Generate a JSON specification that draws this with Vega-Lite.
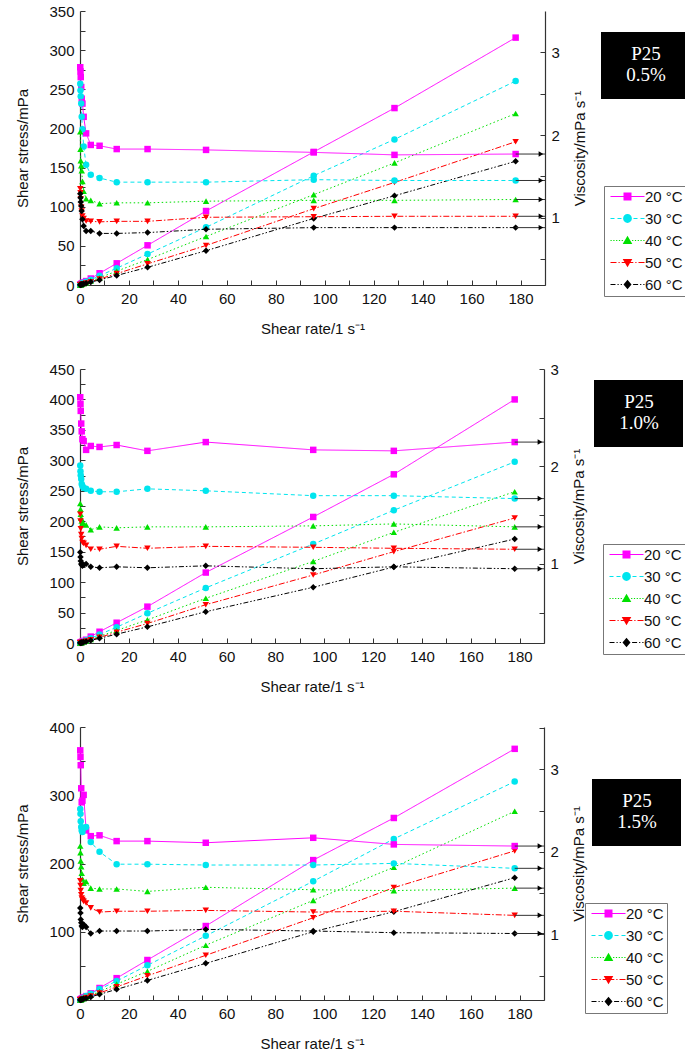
{
"$schema": "https://vega.github.io/schema/vega-lite/v6.json",
"background": "white",
"padding": {"left": 15, "top": 4, "right": 0, "bottom": 0},
"spacing": 26,
"config": {
  "font": "Liberation Sans",
  "view": {"stroke": null},
  "axis": {"labelFontSize": 15, "titleFontSize": 15, "titleFontWeight": "normal", "labelColor": "#111", "titleColor": "#111", "domainColor": "#333", "tickColor": "#333", "grid": false, "tickSize": -5, "labelPadding": 11, "domainWidth": 1.2, "labelFlush": false, "labelOverlap": false}
},
"datasets": {
"p1": [
{"T":"20 °C","r":0.1,"s":0.3,"v":2.82},{"T":"20 °C","r":0.2,"s":0.55,"v":2.77},{"T":"20 °C","r":0.3,"s":0.8,"v":2.70},{"T":"20 °C","r":0.5,"s":1.3,"v":2.58},{"T":"20 °C","r":0.7,"s":1.7,"v":2.44},{"T":"20 °C","r":1,"s":2.4,"v":2.38},{"T":"20 °C","r":1.5,"s":3.3,"v":2.22},{"T":"20 °C","r":2.5,"s":5.0,"v":2.02},{"T":"20 °C","r":4.4,"s":8.3,"v":1.88},{"T":"20 °C","r":8,"s":15,"v":1.87},{"T":"20 °C","r":15,"s":27.7,"v":1.83},{"T":"20 °C","r":27.6,"s":50.7,"v":1.83},{"T":"20 °C","r":51.5,"s":94.5,"v":1.82},{"T":"20 °C","r":95.5,"s":170,"v":1.79},{"T":"20 °C","r":128.5,"s":226,"v":1.76},{"T":"20 °C","r":178,"s":316,"v":1.77},
{"T":"30 °C","r":0.1,"s":0.26,"v":2.62},{"T":"30 °C","r":0.2,"s":0.5,"v":2.54},{"T":"30 °C","r":0.3,"s":0.74,"v":2.47},{"T":"30 °C","r":0.5,"s":1.2,"v":2.38},{"T":"30 °C","r":0.7,"s":1.55,"v":2.22},{"T":"30 °C","r":1,"s":2.1,"v":2.07},{"T":"30 °C","r":1.5,"s":2.8,"v":1.86},{"T":"30 °C","r":2.5,"s":4.1,"v":1.64},{"T":"30 °C","r":4.4,"s":6.7,"v":1.52},{"T":"30 °C","r":8,"s":11.8,"v":1.48},{"T":"30 °C","r":15,"s":21.5,"v":1.43},{"T":"30 °C","r":27.6,"s":39.5,"v":1.43},{"T":"30 °C","r":51.5,"s":73.7,"v":1.43},{"T":"30 °C","r":95.5,"s":139.6,"v":1.46},{"T":"30 °C","r":128.5,"s":186,"v":1.45},{"T":"30 °C","r":178,"s":260.5,"v":1.45},
{"T":"40 °C","r":0.1,"s":0.2,"v":2.04},{"T":"40 °C","r":0.2,"s":0.37,"v":1.83},{"T":"40 °C","r":0.3,"s":0.5,"v":1.69},{"T":"40 °C","r":0.5,"s":0.8,"v":1.63},{"T":"40 °C","r":0.7,"s":1.1,"v":1.57},{"T":"40 °C","r":1,"s":1.44,"v":1.44},{"T":"40 °C","r":1.5,"s":2.0,"v":1.32},{"T":"40 °C","r":2.5,"s":3.1,"v":1.23},{"T":"40 °C","r":4.4,"s":5.3,"v":1.21},{"T":"40 °C","r":8,"s":9.3,"v":1.17},{"T":"40 °C","r":15,"s":17.7,"v":1.18},{"T":"40 °C","r":27.6,"s":32.5,"v":1.18},{"T":"40 °C","r":51.5,"s":62,"v":1.20},{"T":"40 °C","r":95.5,"s":115.4,"v":1.21},{"T":"40 °C","r":128.5,"s":156,"v":1.21},{"T":"40 °C","r":178,"s":219,"v":1.22},
{"T":"50 °C","r":0.1,"s":0.14,"v":1.35},{"T":"50 °C","r":0.2,"s":0.26,"v":1.30},{"T":"50 °C","r":0.3,"s":0.37,"v":1.23},{"T":"50 °C","r":0.5,"s":0.57,"v":1.13},{"T":"50 °C","r":0.7,"s":0.76,"v":1.08},{"T":"50 °C","r":1,"s":1.02,"v":1.02},{"T":"50 °C","r":1.5,"s":1.5,"v":0.99},{"T":"50 °C","r":2.5,"s":2.4,"v":0.96},{"T":"50 °C","r":4.4,"s":4.2,"v":0.956},{"T":"50 °C","r":8,"s":7.6,"v":0.95},{"T":"50 °C","r":15,"s":14.5,"v":0.956},{"T":"50 °C","r":27.6,"s":27,"v":0.956},{"T":"50 °C","r":51.5,"s":50.5,"v":1.005},{"T":"50 °C","r":95.5,"s":97.5,"v":1.012},{"T":"50 °C","r":128.5,"s":131,"v":1.017},{"T":"50 °C","r":178,"s":183,"v":1.017},
{"T":"60 °C","r":0.1,"s":0.13,"v":1.29},{"T":"60 °C","r":0.2,"s":0.25,"v":1.24},{"T":"60 °C","r":0.3,"s":0.36,"v":1.19},{"T":"60 °C","r":0.5,"s":0.57,"v":1.14},{"T":"60 °C","r":0.7,"s":0.76,"v":1.08},{"T":"60 °C","r":1,"s":0.98,"v":0.98},{"T":"60 °C","r":1.5,"s":1.35,"v":0.90},{"T":"60 °C","r":2.5,"s":2.1,"v":0.84},{"T":"60 °C","r":4.4,"s":3.7,"v":0.84},{"T":"60 °C","r":8,"s":6.5,"v":0.81},{"T":"60 °C","r":15,"s":12.2,"v":0.81},{"T":"60 °C","r":27.6,"s":22.6,"v":0.82},{"T":"60 °C","r":51.5,"s":43.8,"v":0.86},{"T":"60 °C","r":95.5,"s":85,"v":0.88},{"T":"60 °C","r":128.5,"s":114,"v":0.88},{"T":"60 °C","r":178,"s":158,"v":0.88}
],
"p2": [
{"T":"20 °C","r":0.1,"s":0.27,"v":2.71},{"T":"20 °C","r":0.2,"s":0.53,"v":2.64},{"T":"20 °C","r":0.3,"s":0.77,"v":2.57},{"T":"20 °C","r":0.5,"s":1.2,"v":2.44},{"T":"20 °C","r":0.7,"s":1.65,"v":2.36},{"T":"20 °C","r":1,"s":2.3,"v":2.28},{"T":"20 °C","r":1.5,"s":3.4,"v":2.26},{"T":"20 °C","r":2.5,"s":5.4,"v":2.17},{"T":"20 °C","r":4.4,"s":10.5,"v":2.21},{"T":"20 °C","r":8,"s":18.5,"v":2.20},{"T":"20 °C","r":15,"s":33.3,"v":2.22},{"T":"20 °C","r":27.6,"s":59.7,"v":2.16},{"T":"20 °C","r":51.5,"s":115.7,"v":2.25},{"T":"20 °C","r":95.5,"s":207,"v":2.17},{"T":"20 °C","r":128.5,"s":277,"v":2.16},{"T":"20 °C","r":178,"s":400,"v":2.25},
{"T":"30 °C","r":0.1,"s":0.2,"v":2.01},{"T":"30 °C","r":0.2,"s":0.39,"v":1.95},{"T":"30 °C","r":0.3,"s":0.57,"v":1.91},{"T":"30 °C","r":0.5,"s":0.94,"v":1.87},{"T":"30 °C","r":0.7,"s":1.27,"v":1.82},{"T":"30 °C","r":1,"s":1.8,"v":1.80},{"T":"30 °C","r":1.5,"s":2.67,"v":1.78},{"T":"30 °C","r":2.5,"s":4.4,"v":1.77},{"T":"30 °C","r":4.4,"s":7.7,"v":1.75},{"T":"30 °C","r":8,"s":13.9,"v":1.74},{"T":"30 °C","r":15,"s":26,"v":1.74},{"T":"30 °C","r":27.6,"s":48.8,"v":1.77},{"T":"30 °C","r":51.5,"s":90.5,"v":1.75},{"T":"30 °C","r":95.5,"s":162.5,"v":1.70},{"T":"30 °C","r":128.5,"s":218,"v":1.70},{"T":"30 °C","r":178,"s":297.5,"v":1.67},
{"T":"40 °C","r":0.1,"s":0.16,"v":1.62},{"T":"40 °C","r":0.2,"s":0.31,"v":1.56},{"T":"40 °C","r":0.3,"s":0.45,"v":1.51},{"T":"40 °C","r":0.5,"s":0.74,"v":1.47},{"T":"40 °C","r":0.7,"s":1.0,"v":1.44},{"T":"40 °C","r":1,"s":1.42,"v":1.42},{"T":"40 °C","r":1.5,"s":2.1,"v":1.41},{"T":"40 °C","r":2.5,"s":3.5,"v":1.40},{"T":"40 °C","r":4.4,"s":5.9,"v":1.35},{"T":"40 °C","r":8,"s":11,"v":1.38},{"T":"40 °C","r":15,"s":20.6,"v":1.37},{"T":"40 °C","r":27.6,"s":38,"v":1.38},{"T":"40 °C","r":51.5,"s":73.4,"v":1.38},{"T":"40 °C","r":95.5,"s":134,"v":1.39},{"T":"40 °C","r":128.5,"s":181.8,"v":1.41},{"T":"40 °C","r":178,"s":248.5,"v":1.38},
{"T":"50 °C","r":0.1,"s":0.15,"v":1.51},{"T":"50 °C","r":0.2,"s":0.29,"v":1.44},{"T":"50 °C","r":0.3,"s":0.41,"v":1.36},{"T":"50 °C","r":0.5,"s":0.65,"v":1.30},{"T":"50 °C","r":0.7,"s":0.88,"v":1.26},{"T":"50 °C","r":1,"s":1.22,"v":1.22},{"T":"50 °C","r":1.5,"s":1.8,"v":1.21},{"T":"50 °C","r":2.5,"s":3.0,"v":1.19},{"T":"50 °C","r":4.4,"s":5.1,"v":1.15},{"T":"50 °C","r":8,"s":9.2,"v":1.15},{"T":"50 °C","r":15,"s":17.7,"v":1.18},{"T":"50 °C","r":27.6,"s":32,"v":1.16},{"T":"50 °C","r":51.5,"s":62.9,"v":1.18},{"T":"50 °C","r":95.5,"s":111.7,"v":1.17},{"T":"50 °C","r":128.5,"s":150,"v":1.16},{"T":"50 °C","r":178,"s":205.3,"v":1.15},
{"T":"60 °C","r":0.1,"s":0.11,"v":1.12},{"T":"60 °C","r":0.2,"s":0.21,"v":1.07},{"T":"60 °C","r":0.3,"s":0.31,"v":1.03},{"T":"60 °C","r":0.5,"s":0.5,"v":1.00},{"T":"60 °C","r":0.7,"s":0.69,"v":0.99},{"T":"60 °C","r":1,"s":0.98,"v":0.98},{"T":"60 °C","r":1.5,"s":1.48,"v":0.99},{"T":"60 °C","r":2.5,"s":2.5,"v":1.00},{"T":"60 °C","r":4.4,"s":4.3,"v":0.97},{"T":"60 °C","r":8,"s":7.7,"v":0.96},{"T":"60 °C","r":15,"s":14.5,"v":0.97},{"T":"60 °C","r":27.6,"s":26.5,"v":0.96},{"T":"60 °C","r":51.5,"s":51.4,"v":0.98},{"T":"60 °C","r":95.5,"s":91.5,"v":0.95},{"T":"60 °C","r":128.5,"s":124.8,"v":0.97},{"T":"60 °C","r":178,"s":170.8,"v":0.95}
],
"p3": [
{"T":"20 °C","r":0.1,"s":0.32,"v":3.23},{"T":"20 °C","r":0.2,"s":0.63,"v":3.15},{"T":"20 °C","r":0.3,"s":0.92,"v":3.05},{"T":"20 °C","r":0.5,"s":1.4,"v":2.77},{"T":"20 °C","r":0.7,"s":1.8,"v":2.60},{"T":"20 °C","r":1,"s":2.6,"v":2.62},{"T":"20 °C","r":1.5,"s":4.0,"v":2.69},{"T":"20 °C","r":2.5,"s":5.7,"v":2.26},{"T":"20 °C","r":4.4,"s":9.8,"v":2.19},{"T":"20 °C","r":8,"s":17.6,"v":2.20},{"T":"20 °C","r":15,"s":32,"v":2.13},{"T":"20 °C","r":27.6,"s":58.6,"v":2.13},{"T":"20 °C","r":51.5,"s":108.4,"v":2.11},{"T":"20 °C","r":95.5,"s":205,"v":2.17},{"T":"20 °C","r":128.5,"s":266.7,"v":2.09},{"T":"20 °C","r":178,"s":368,"v":2.07},
{"T":"30 °C","r":0.1,"s":0.25,"v":2.52},{"T":"30 °C","r":0.2,"s":0.49,"v":2.46},{"T":"30 °C","r":0.3,"s":0.71,"v":2.37},{"T":"30 °C","r":0.5,"s":1.15,"v":2.30},{"T":"30 °C","r":0.7,"s":1.58,"v":2.26},{"T":"30 °C","r":1,"s":2.24,"v":2.24},{"T":"30 °C","r":1.5,"s":3.4,"v":2.29},{"T":"30 °C","r":2.5,"s":5.8,"v":2.30},{"T":"30 °C","r":4.4,"s":9.3,"v":2.12},{"T":"30 °C","r":8,"s":16,"v":2.00},{"T":"30 °C","r":15,"s":27.7,"v":1.85},{"T":"30 °C","r":27.6,"s":50.8,"v":1.85},{"T":"30 °C","r":51.5,"s":94,"v":1.84},{"T":"30 °C","r":95.5,"s":174,"v":1.84},{"T":"30 °C","r":128.5,"s":236,"v":1.86},{"T":"30 °C","r":178,"s":320,"v":1.80},
{"T":"40 °C","r":0.1,"s":0.21,"v":2.07},{"T":"40 °C","r":0.2,"s":0.4,"v":1.99},{"T":"40 °C","r":0.3,"s":0.57,"v":1.89},{"T":"40 °C","r":0.5,"s":0.91,"v":1.82},{"T":"40 °C","r":0.7,"s":1.22,"v":1.74},{"T":"40 °C","r":1,"s":1.67,"v":1.67},{"T":"40 °C","r":1.5,"s":2.4,"v":1.62},{"T":"40 °C","r":2.5,"s":4.1,"v":1.64},{"T":"40 °C","r":4.4,"s":6.9,"v":1.56},{"T":"40 °C","r":8,"s":12.4,"v":1.55},{"T":"40 °C","r":15,"s":23.2,"v":1.55},{"T":"40 °C","r":27.6,"s":42,"v":1.52},{"T":"40 °C","r":51.5,"s":80.3,"v":1.57},{"T":"40 °C","r":95.5,"s":146,"v":1.54},{"T":"40 °C","r":128.5,"s":194.5,"v":1.53},{"T":"40 °C","r":178,"s":276.5,"v":1.56},
{"T":"50 °C","r":0.1,"s":0.16,"v":1.65},{"T":"50 °C","r":0.2,"s":0.32,"v":1.59},{"T":"50 °C","r":0.3,"s":0.46,"v":1.53},{"T":"50 °C","r":0.5,"s":0.74,"v":1.48},{"T":"50 °C","r":0.7,"s":1.0,"v":1.44},{"T":"50 °C","r":1,"s":1.42,"v":1.42},{"T":"50 °C","r":1.5,"s":2.1,"v":1.40},{"T":"50 °C","r":2.5,"s":3.4,"v":1.38},{"T":"50 °C","r":4.4,"s":5.8,"v":1.32},{"T":"50 °C","r":8,"s":10.2,"v":1.27},{"T":"50 °C","r":15,"s":19.2,"v":1.28},{"T":"50 °C","r":27.6,"s":35.4,"v":1.28},{"T":"50 °C","r":51.5,"s":65.5,"v":1.29},{"T":"50 °C","r":95.5,"s":120.5,"v":1.27},{"T":"50 °C","r":128.5,"s":164.6,"v":1.28},{"T":"50 °C","r":178,"s":218.5,"v":1.23},
{"T":"60 °C","r":0.1,"s":0.13,"v":1.32},{"T":"60 °C","r":0.2,"s":0.25,"v":1.26},{"T":"60 °C","r":0.3,"s":0.35,"v":1.18},{"T":"60 °C","r":0.5,"s":0.57,"v":1.14},{"T":"60 °C","r":0.7,"s":0.77,"v":1.10},{"T":"60 °C","r":1,"s":1.09,"v":1.09},{"T":"60 °C","r":1.5,"s":1.68,"v":1.12},{"T":"60 °C","r":2.5,"s":2.7,"v":1.09},{"T":"60 °C","r":4.4,"s":4.5,"v":1.01},{"T":"60 °C","r":8,"s":8.3,"v":1.04},{"T":"60 °C","r":15,"s":15.6,"v":1.04},{"T":"60 °C","r":27.6,"s":28.7,"v":1.04},{"T":"60 °C","r":51.5,"s":53.7,"v":1.06},{"T":"60 °C","r":95.5,"s":100,"v":1.04},{"T":"60 °C","r":128.5,"s":129.4,"v":1.02},{"T":"60 °C","r":178,"s":179.2,"v":1.01}
],
"temps": [{"T":"20 °C"},{"T":"30 °C"},{"T":"40 °C"},{"T":"50 °C"},{"T":"60 °C"}]
},
"vconcat": [
{
 "width": 465, "height": 274,
 "data": {"name": "p1"},
 "layer": [
  {
   "encoding": {
    "x": {"field": "r", "type": "quantitative", "scale": {"domain": [0, 190], "nice": false, "zero": false}, "axis": {"orient": "bottom", "title": "Shear rate/1 s⁻¹", "values": [0,10,20,30,40,50,60,70,80,90,100,110,120,130,140,150,160,170,180,190], "labelExpr": "datum.value % 20 == 0 ? datum.label : ''", "titlePadding": 15}},
    "y": {"field": "s", "type": "quantitative", "scale": {"domain": [0, 350], "nice": false}, "axis": {"orient": "left", "title": "Shear stress/mPa", "values": [0,25,50,75,100,125,150,175,200,225,250,275,300,325,350], "labelExpr": "datum.value % 50 == 0 ? datum.label : ''", "titlePadding": 18}},
    "color": {"field": "T", "type": "nominal", "scale": {"domain": ["20 °C","30 °C","40 °C","50 °C","60 °C"], "range": ["#ff00ff","#00e5ee","#00e000","#ff0000","#000000"]}, "legend": null}
   },
   "layer": [
    {"mark": {"type": "line", "strokeWidth": 1}, "encoding": {"strokeDash": {"field": "T", "type": "nominal", "scale": {"domain": ["20 °C","30 °C","40 °C","50 °C","60 °C"], "range": [[1,0],[4,3],[1.5,2.5],[6,2,1.5,2],[5,2,1.5,2,1.5,2]]}, "legend": null}}},
    {"mark": {"type": "point", "filled": true, "size": 42, "opacity": 1}, "encoding": {"shape": {"field": "T", "type": "nominal", "scale": {"domain": ["20 °C","30 °C","40 °C","50 °C","60 °C"], "range": ["square","circle","triangle-up","triangle-down","diamond"]}, "legend": null}}}
   ]
  },
  {
   "encoding": {
    "x": {"field": "r", "type": "quantitative", "axis": {"orient": "top", "title": null, "labels": false, "values": [0,10,20,30,40,50,60,70,80,90,100,110,120,130,140,150,160,170,180,190]}},
    "y": {"field": "v", "type": "quantitative", "scale": {"domain": [0.186, 3.5], "nice": false, "zero": false}, "axis": {"orient": "right", "title": "Viscosity/mPa s⁻¹", "values": [0.5,1,1.5,2,2.5,3], "labelExpr": "datum.value % 1 == 0 ? format(datum.value, 'd') : ''", "titleAngle": 270, "titleBaseline": "top", "titlePadding": 13}},
    "color": {"field": "T", "type": "nominal", "legend": null}
   },
   "layer": [
    {"mark": {"type": "line", "strokeWidth": 1}, "encoding": {"strokeDash": {"field": "T", "type": "nominal", "legend": null}}},
    {"mark": {"type": "point", "filled": true, "size": 42, "opacity": 1}, "encoding": {"shape": {"field": "T", "type": "nominal", "scale": {"domain": ["20 °C","30 °C","40 °C","50 °C","60 °C"], "range": ["square","circle","triangle-up","triangle-down","diamond"]}, "legend": null}}},
    {"transform": [{"filter": "datum.r == 178"}], "mark": {"type": "rule", "strokeWidth": 1}, "encoding": {"x2": {"datum": 190}, "color": {"value": "#333"}}},
    {"transform": [{"filter": "datum.r == 178"}], "mark": {"type": "point", "shape": "triangle-right", "filled": true, "size": 30, "opacity": 1, "xOffset": -4}, "encoding": {"x": {"datum": 190, "type": "quantitative", "axis": null}, "color": {"value": "#000"}}}
   ]
  },
  {
   "data": {"name": "temps"},
   "mark": {"type": "point", "filled": true},
   "encoding": {
    "opacity": {"value": 0},
    "fill": {"field": "T", "type": "nominal", "scale": {"domain": ["20 °C","30 °C","40 °C","50 °C","60 °C"], "range": ["#ff00ff","#00e5ee","#00e000","#ff0000","#000000"]}, "legend": {"title": null, "orient": "none", "legendX": 524, "legendY": 175, "symbolSize": 64, "symbolOffset": 13, "labelOffset": 10, "symbolStrokeWidth": 0, "symbolOpacity": 1, "labelFont": "Liberation Sans", "labelFontSize": 15, "labelColor": "#111", "rowPadding": 6, "padding": 3, "strokeColor": "#777", "fillColor": "white", "labelLimit": 200}},
    "shape": {"field": "T", "type": "nominal", "scale": {"domain": ["20 °C","30 °C","40 °C","50 °C","60 °C"], "range": [
      "M-4.25,-0.15H4.25V0.15H-4.25Z M-1,-1H1V1H-1Z",
      "M-4.25,-0.15H-3.25V0.15H-4.25Z M-2.5,-0.15H-1.5V0.15H-2.5Z M-0.75,-0.15H0.75V0.15H-0.75Z M1.5,-0.15H2.5V0.15H1.5Z M3.25,-0.15H4.25V0.15H3.25Z M1.1,0A1.1,1.1,0,1,1,-1.1,0A1.1,1.1,0,1,1,1.1,0Z",
      "M-4.25,-0.15h0.3v0.3h-0.3Z M-3.55,-0.15h0.3v0.3h-0.3Z M-2.85,-0.15h0.3v0.3h-0.3Z M-2.15,-0.15h0.3v0.3h-0.3Z M-1.45,-0.15h0.3v0.3h-0.3Z M1.15,-0.15h0.3v0.3h-0.3Z M1.85,-0.15h0.3v0.3h-0.3Z M2.55,-0.15h0.3v0.3h-0.3Z M3.25,-0.15h0.3v0.3h-0.3Z M3.95,-0.15h0.3v0.3h-0.3Z M0,-1.2L1.2,0.9L-1.2,0.9Z",
      "M-4.25,-0.15H-2.75V0.15H-4.25Z M-2.25,-0.15H-1.95V0.15H-2.25Z M-1.45,-0.15H1.45V0.15H-1.45Z M1.95,-0.15H2.25V0.15H1.95Z M2.75,-0.15H4.25V0.15H2.75Z M0,1.2L-1.2,-0.9L1.2,-0.9Z",
      "M-4.25,-0.15H-3.0V0.15H-4.25Z M-2.5,-0.15H-2.2V0.15H-2.5Z M-1.7,-0.15H-1.4V0.15H-1.7Z M1.4,-0.15H2.65V0.15H1.4Z M3.15,-0.15H3.45V0.15H3.15Z M3.95,-0.15H4.25V0.15H3.95Z M0,-1.2L1,0L0,1.2L-1,0Z"
    ]}, "legend": {"title": null, "orient": "none", "legendX": 524, "legendY": 175, "symbolOpacity": 1}}
   }
  },
  {
   "data": {"values": [{"box": "P25 0.5%"}]},
   "mark": {"type": "point", "filled": true},
   "encoding": {"opacity": {"value": 0}, "fill": {"field": "box", "type": "nominal", "scale": {"range": ["#000000"]}, "legend": {"title": ["P25", "0.5%"], "orient": "none", "legendX": 521, "legendY": 21, "fillColor": "black", "padding": 13, "titleFont": "Liberation Serif", "titleFontSize": 19, "titleFontWeight": "normal", "titleColor": "white", "titleLineHeight": 21, "titleAlign": "center", "titleAnchor": "middle", "titlePadding": 0, "labelExpr": "''", "labelFontSize": 1, "labelOffset": 62, "symbolSize": 0, "symbolStrokeWidth": 0, "symbolOpacity": 0}}}
  }
 ],
 "resolve": {"scale": {"y": "independent", "shape": "independent", "fill": "independent"}}
},
{
 "width": 464, "height": 274,
 "data": {"name": "p2"},
 "layer": [
  {
   "encoding": {
    "x": {"field": "r", "type": "quantitative", "scale": {"domain": [0, 190], "nice": false, "zero": false}, "axis": {"orient": "bottom", "title": "Shear rate/1 s⁻¹", "values": [0,10,20,30,40,50,60,70,80,90,100,110,120,130,140,150,160,170,180,190], "labelExpr": "datum.value % 20 == 0 ? datum.label : ''", "titlePadding": 15}},
    "y": {"field": "s", "type": "quantitative", "scale": {"domain": [0, 450], "nice": false}, "axis": {"orient": "left", "title": "Shear stress/mPa", "values": [0,25,50,75,100,125,150,175,200,225,250,275,300,325,350,375,400,425,450], "labelExpr": "datum.value % 50 == 0 ? datum.label : ''", "titlePadding": 18}},
    "color": {"field": "T", "type": "nominal", "scale": {"domain": ["20 °C","30 °C","40 °C","50 °C","60 °C"], "range": ["#ff00ff","#00e5ee","#00e000","#ff0000","#000000"]}, "legend": null}
   },
   "layer": [
    {"mark": {"type": "line", "strokeWidth": 1}, "encoding": {"strokeDash": {"field": "T", "type": "nominal", "scale": {"domain": ["20 °C","30 °C","40 °C","50 °C","60 °C"], "range": [[1,0],[4,3],[1.5,2.5],[6,2,1.5,2],[5,2,1.5,2,1.5,2]]}, "legend": null}}},
    {"mark": {"type": "point", "filled": true, "size": 42, "opacity": 1}, "encoding": {"shape": {"field": "T", "type": "nominal", "scale": {"domain": ["20 °C","30 °C","40 °C","50 °C","60 °C"], "range": ["square","circle","triangle-up","triangle-down","diamond"]}, "legend": null}}}
   ]
  },
  {
   "encoding": {
    "x": {"field": "r", "type": "quantitative", "axis": {"orient": "top", "title": null, "labels": false, "values": [0,10,20,30,40,50,60,70,80,90,100,110,120,130,140,150,160,170,180,190]}},
    "y": {"field": "v", "type": "quantitative", "scale": {"domain": [0.188, 3.0], "nice": false, "zero": false}, "axis": {"orient": "right", "title": "Viscosity/mPa s⁻¹", "values": [0.5,1,1.5,2,2.5,3], "labelExpr": "datum.value % 1 == 0 ? format(datum.value, 'd') : ''", "titleAngle": 270, "titleBaseline": "top", "titlePadding": 13}},
    "color": {"field": "T", "type": "nominal", "legend": null}
   },
   "layer": [
    {"mark": {"type": "line", "strokeWidth": 1}, "encoding": {"strokeDash": {"field": "T", "type": "nominal", "legend": null}}},
    {"mark": {"type": "point", "filled": true, "size": 42, "opacity": 1}, "encoding": {"shape": {"field": "T", "type": "nominal", "scale": {"domain": ["20 °C","30 °C","40 °C","50 °C","60 °C"], "range": ["square","circle","triangle-up","triangle-down","diamond"]}, "legend": null}}},
    {"transform": [{"filter": "datum.r == 178"}], "mark": {"type": "rule", "strokeWidth": 1}, "encoding": {"x2": {"datum": 190}, "color": {"value": "#333"}}},
    {"transform": [{"filter": "datum.r == 178"}], "mark": {"type": "point", "shape": "triangle-right", "filled": true, "size": 30, "opacity": 1, "xOffset": -4}, "encoding": {"x": {"datum": 190, "type": "quantitative", "axis": null}, "color": {"value": "#000"}}}
   ]
  },
  {
   "data": {"name": "temps"},
   "mark": {"type": "point", "filled": true},
   "encoding": {
    "opacity": {"value": 0},
    "fill": {"field": "T", "type": "nominal", "scale": {"domain": ["20 °C","30 °C","40 °C","50 °C","60 °C"], "range": ["#ff00ff","#00e5ee","#00e000","#ff0000","#000000"]}, "legend": {"title": null, "orient": "none", "legendX": 523, "legendY": 175, "symbolSize": 64, "symbolOffset": 13, "labelOffset": 10, "symbolStrokeWidth": 0, "symbolOpacity": 1, "labelFont": "Liberation Sans", "labelFontSize": 15, "labelColor": "#111", "rowPadding": 6, "padding": 3, "strokeColor": "#777", "fillColor": "white", "labelLimit": 200}},
    "shape": {"field": "T", "type": "nominal", "scale": {"domain": ["20 °C","30 °C","40 °C","50 °C","60 °C"], "range": [
      "M-4.25,-0.15H4.25V0.15H-4.25Z M-1,-1H1V1H-1Z",
      "M-4.25,-0.15H-3.25V0.15H-4.25Z M-2.5,-0.15H-1.5V0.15H-2.5Z M-0.75,-0.15H0.75V0.15H-0.75Z M1.5,-0.15H2.5V0.15H1.5Z M3.25,-0.15H4.25V0.15H3.25Z M1.1,0A1.1,1.1,0,1,1,-1.1,0A1.1,1.1,0,1,1,1.1,0Z",
      "M-4.25,-0.15h0.3v0.3h-0.3Z M-3.55,-0.15h0.3v0.3h-0.3Z M-2.85,-0.15h0.3v0.3h-0.3Z M-2.15,-0.15h0.3v0.3h-0.3Z M-1.45,-0.15h0.3v0.3h-0.3Z M1.15,-0.15h0.3v0.3h-0.3Z M1.85,-0.15h0.3v0.3h-0.3Z M2.55,-0.15h0.3v0.3h-0.3Z M3.25,-0.15h0.3v0.3h-0.3Z M3.95,-0.15h0.3v0.3h-0.3Z M0,-1.2L1.2,0.9L-1.2,0.9Z",
      "M-4.25,-0.15H-2.75V0.15H-4.25Z M-2.25,-0.15H-1.95V0.15H-2.25Z M-1.45,-0.15H1.45V0.15H-1.45Z M1.95,-0.15H2.25V0.15H1.95Z M2.75,-0.15H4.25V0.15H2.75Z M0,1.2L-1.2,-0.9L1.2,-0.9Z",
      "M-4.25,-0.15H-3.0V0.15H-4.25Z M-2.5,-0.15H-2.2V0.15H-2.5Z M-1.7,-0.15H-1.4V0.15H-1.7Z M1.4,-0.15H2.65V0.15H1.4Z M3.15,-0.15H3.45V0.15H3.15Z M3.95,-0.15H4.25V0.15H3.95Z M0,-1.2L1,0L0,1.2L-1,0Z"
    ]}, "legend": {"title": null, "orient": "none", "legendX": 523, "legendY": 175, "symbolOpacity": 1}}
   }
  },
  {
   "data": {"values": [{"box": "P25 1.0%"}]},
   "mark": {"type": "point", "filled": true},
   "encoding": {"opacity": {"value": 0}, "fill": {"field": "box", "type": "nominal", "scale": {"range": ["#000000"]}, "legend": {"title": ["P25", "1.0%"], "orient": "none", "legendX": 514, "legendY": 11, "fillColor": "black", "padding": 13, "titleFont": "Liberation Serif", "titleFontSize": 19, "titleFontWeight": "normal", "titleColor": "white", "titleLineHeight": 21, "titleAlign": "center", "titleAnchor": "middle", "titlePadding": 0, "labelExpr": "''", "labelFontSize": 1, "labelOffset": 62, "symbolSize": 0, "symbolStrokeWidth": 0, "symbolOpacity": 0}}}
  }
 ],
 "resolve": {"scale": {"y": "independent", "shape": "independent", "fill": "independent"}}
},
{
 "width": 464, "height": 273,
 "data": {"name": "p3"},
 "layer": [
  {
   "encoding": {
    "x": {"field": "r", "type": "quantitative", "scale": {"domain": [0, 190], "nice": false, "zero": false}, "axis": {"orient": "bottom", "title": "Shear rate/1 s⁻¹", "values": [0,10,20,30,40,50,60,70,80,90,100,110,120,130,140,150,160,170,180,190], "labelExpr": "datum.value % 20 == 0 ? datum.label : ''", "titlePadding": 15}},
    "y": {"field": "s", "type": "quantitative", "scale": {"domain": [0, 400], "nice": false}, "axis": {"orient": "left", "title": "Shear stress/mPa", "values": [0,50,100,150,200,250,300,350,400], "labelExpr": "datum.value % 100 == 0 ? datum.label : ''", "titlePadding": 18}},
    "color": {"field": "T", "type": "nominal", "scale": {"domain": ["20 °C","30 °C","40 °C","50 °C","60 °C"], "range": ["#ff00ff","#00e5ee","#00e000","#ff0000","#000000"]}, "legend": null}
   },
   "layer": [
    {"mark": {"type": "line", "strokeWidth": 1}, "encoding": {"strokeDash": {"field": "T", "type": "nominal", "scale": {"domain": ["20 °C","30 °C","40 °C","50 °C","60 °C"], "range": [[1,0],[4,3],[1.5,2.5],[6,2,1.5,2],[5,2,1.5,2,1.5,2]]}, "legend": null}}},
    {"mark": {"type": "point", "filled": true, "size": 42, "opacity": 1}, "encoding": {"shape": {"field": "T", "type": "nominal", "scale": {"domain": ["20 °C","30 °C","40 °C","50 °C","60 °C"], "range": ["square","circle","triangle-up","triangle-down","diamond"]}, "legend": null}}}
   ]
  },
  {
   "encoding": {
    "x": {"field": "r", "type": "quantitative", "axis": {"orient": "top", "title": null, "labels": false, "values": [0,10,20,30,40,50,60,70,80,90,100,110,120,130,140,150,160,170,180,190]}},
    "y": {"field": "v", "type": "quantitative", "scale": {"domain": [0.204, 3.513], "nice": false, "zero": false}, "axis": {"orient": "right", "title": "Viscosity/mPa s⁻¹", "values": [0.5,1,1.5,2,2.5,3,3.5], "labelExpr": "datum.value % 1 == 0 ? format(datum.value, 'd') : ''", "titleAngle": 270, "titleBaseline": "top", "titlePadding": 13}},
    "color": {"field": "T", "type": "nominal", "legend": null}
   },
   "layer": [
    {"mark": {"type": "line", "strokeWidth": 1}, "encoding": {"strokeDash": {"field": "T", "type": "nominal", "legend": null}}},
    {"mark": {"type": "point", "filled": true, "size": 42, "opacity": 1}, "encoding": {"shape": {"field": "T", "type": "nominal", "scale": {"domain": ["20 °C","30 °C","40 °C","50 °C","60 °C"], "range": ["square","circle","triangle-up","triangle-down","diamond"]}, "legend": null}}},
    {"transform": [{"filter": "datum.r == 178"}], "mark": {"type": "rule", "strokeWidth": 1}, "encoding": {"x2": {"datum": 190}, "color": {"value": "#333"}}},
    {"transform": [{"filter": "datum.r == 178"}], "mark": {"type": "point", "shape": "triangle-right", "filled": true, "size": 30, "opacity": 1, "xOffset": -4}, "encoding": {"x": {"datum": 190, "type": "quantitative", "axis": null}, "color": {"value": "#000"}}}
   ]
  },
  {
   "data": {"name": "temps"},
   "mark": {"type": "point", "filled": true},
   "encoding": {
    "opacity": {"value": 0},
    "fill": {"field": "T", "type": "nominal", "scale": {"domain": ["20 °C","30 °C","40 °C","50 °C","60 °C"], "range": ["#ff00ff","#00e5ee","#00e000","#ff0000","#000000"]}, "legend": {"title": null, "orient": "none", "legendX": 505, "legendY": 176, "symbolSize": 64, "symbolOffset": 13, "labelOffset": 10, "symbolStrokeWidth": 0, "symbolOpacity": 1, "labelFont": "Liberation Sans", "labelFontSize": 15, "labelColor": "#111", "rowPadding": 6, "padding": 3, "strokeColor": "#777", "fillColor": "white", "labelLimit": 200}},
    "shape": {"field": "T", "type": "nominal", "scale": {"domain": ["20 °C","30 °C","40 °C","50 °C","60 °C"], "range": [
      "M-4.25,-0.15H4.25V0.15H-4.25Z M-1,-1H1V1H-1Z",
      "M-4.25,-0.15H-3.25V0.15H-4.25Z M-2.5,-0.15H-1.5V0.15H-2.5Z M-0.75,-0.15H0.75V0.15H-0.75Z M1.5,-0.15H2.5V0.15H1.5Z M3.25,-0.15H4.25V0.15H3.25Z M1.1,0A1.1,1.1,0,1,1,-1.1,0A1.1,1.1,0,1,1,1.1,0Z",
      "M-4.25,-0.15h0.3v0.3h-0.3Z M-3.55,-0.15h0.3v0.3h-0.3Z M-2.85,-0.15h0.3v0.3h-0.3Z M-2.15,-0.15h0.3v0.3h-0.3Z M-1.45,-0.15h0.3v0.3h-0.3Z M1.15,-0.15h0.3v0.3h-0.3Z M1.85,-0.15h0.3v0.3h-0.3Z M2.55,-0.15h0.3v0.3h-0.3Z M3.25,-0.15h0.3v0.3h-0.3Z M3.95,-0.15h0.3v0.3h-0.3Z M0,-1.2L1.2,0.9L-1.2,0.9Z",
      "M-4.25,-0.15H-2.75V0.15H-4.25Z M-2.25,-0.15H-1.95V0.15H-2.25Z M-1.45,-0.15H1.45V0.15H-1.45Z M1.95,-0.15H2.25V0.15H1.95Z M2.75,-0.15H4.25V0.15H2.75Z M0,1.2L-1.2,-0.9L1.2,-0.9Z",
      "M-4.25,-0.15H-3.0V0.15H-4.25Z M-2.5,-0.15H-2.2V0.15H-2.5Z M-1.7,-0.15H-1.4V0.15H-1.7Z M1.4,-0.15H2.65V0.15H1.4Z M3.15,-0.15H3.45V0.15H3.15Z M3.95,-0.15H4.25V0.15H3.95Z M0,-1.2L1,0L0,1.2L-1,0Z"
    ]}, "legend": {"title": null, "orient": "none", "legendX": 505, "legendY": 176, "symbolOpacity": 1}}
   }
  },
  {
   "data": {"values": [{"box": "P25 1.5%"}]},
   "mark": {"type": "point", "filled": true},
   "encoding": {"opacity": {"value": 0}, "fill": {"field": "box", "type": "nominal", "scale": {"range": ["#000000"]}, "legend": {"title": ["P25", "1.5%"], "orient": "none", "legendX": 512, "legendY": 52, "fillColor": "black", "padding": 13, "titleFont": "Liberation Serif", "titleFontSize": 19, "titleFontWeight": "normal", "titleColor": "white", "titleLineHeight": 21, "titleAlign": "center", "titleAnchor": "middle", "titlePadding": 0, "labelExpr": "''", "labelFontSize": 1, "labelOffset": 62, "symbolSize": 0, "symbolStrokeWidth": 0, "symbolOpacity": 0}}}
  }
 ],
 "resolve": {"scale": {"y": "independent", "shape": "independent", "fill": "independent"}}
}
]
}
